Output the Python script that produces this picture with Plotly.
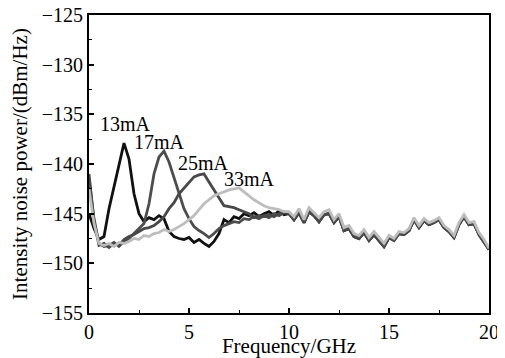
import plotly.graph_objects as go

freq = [0.0, 0.25, 0.5, 0.75, 1.0, 1.25, 1.5, 1.75, 2.0, 2.25, 2.5, 2.75, 3.0, 3.25, 3.5, 3.75,
        4.0, 4.25, 4.5, 4.75, 5.0, 5.25, 5.5, 5.75, 6.0, 6.25, 6.5, 6.75, 7.0, 7.25, 7.5, 7.75,
        8.0, 8.25, 8.5, 8.75, 9.0, 9.25, 9.5, 9.75, 10.0,
        10.25, 10.5, 10.75, 11.0, 11.25, 11.5, 11.75, 12.0, 12.25, 12.5, 12.75, 13.0, 13.25, 13.5,
        13.75, 14.0, 14.25, 14.5, 14.75, 15.0, 15.25, 15.5, 15.75, 16.0, 16.25, 16.5, 16.75, 17.0,
        17.25, 17.5, 17.75, 18.0, 18.25, 18.5, 18.75, 19.0, 19.25, 19.5, 19.75, 20.0]

# 0-10 GHz region per bias current
low_13mA = [-145.0, -146.5, -147.6, -147.3, -144.5, -142.3, -140.1, -137.9, -139.5, -143.0,
            -145.0, -145.8, -145.4, -145.6, -145.2, -145.5, -146.8, -147.3, -147.5, -147.6,
            -147.4, -147.9, -147.6, -148.0, -148.3, -147.8, -147.0, -145.6, -145.9, -145.3,
            -145.5, -145.0, -145.2, -144.9, -145.3, -145.0, -144.8, -145.2, -144.7, -145.1, -145.0]
low_17mA = [-141.5, -145.5, -148.0, -148.3, -148.2, -147.9, -148.3, -147.8, -147.5, -147.0,
            -146.5, -146.0, -144.0, -141.0, -139.3, -138.7, -139.8, -141.3, -143.0, -144.5,
            -145.5, -146.3, -146.7, -147.0, -147.4, -147.0, -146.5, -146.2, -146.0, -145.8,
            -145.9, -145.5, -145.6, -145.3, -145.5, -145.2, -145.4, -145.0, -145.2, -144.9, -145.0]
low_25mA = [-141.0, -145.8, -148.2, -148.0, -148.4, -148.0, -148.2, -147.6, -147.3, -147.1,
            -146.8, -146.5, -146.4, -146.2, -145.8, -145.3, -144.5, -143.9, -143.0, -142.4,
            -141.8, -141.3, -141.1, -141.0, -141.8, -142.6, -143.5, -144.2, -144.3, -144.4,
            -144.6, -144.8, -145.0, -145.4, -145.2, -145.3, -145.1, -145.3, -145.0, -144.8, -145.0]
low_33mA = [-142.5, -146.0, -148.0, -148.2, -148.0, -148.3, -147.9, -148.0, -147.8, -147.5,
            -147.6, -147.2, -147.3, -147.0, -146.9, -146.6, -146.8, -146.6, -146.3, -146.0,
            -145.6, -145.2, -144.6, -144.0, -143.6, -143.2, -143.0, -142.8, -142.6, -142.5,
            -142.4, -142.8, -143.2, -143.6, -143.9, -144.2, -144.4, -144.5, -144.6, -144.8, -144.8]

# 10.25-20 GHz region (curves merge)
tail_light = [-145.3, -144.5, -145.6, -144.4, -144.9, -145.4, -144.8, -144.6, -145.6, -145.0,
              -146.4, -146.2, -147.0, -147.2, -146.6, -147.4, -146.8, -147.4, -148.0, -147.2,
              -147.5, -146.8, -146.9, -146.5, -145.4, -146.2, -145.5, -145.9, -145.7, -145.4,
              -146.2, -146.6, -147.2, -145.9, -145.1, -145.9, -145.8, -146.9, -147.6, -148.5]
tail_dark = [-145.6, -144.9, -145.9, -144.8, -145.2, -145.8, -145.1, -145.0, -145.9, -145.3,
             -146.7, -146.5, -147.3, -147.5, -146.9, -147.7, -147.1, -147.7, -148.3, -147.4,
             -147.7, -147.0, -147.1, -146.7, -145.6, -146.4, -145.7, -146.1, -145.9, -145.6,
             -146.4, -146.8, -147.4, -146.1, -145.3, -146.1, -146.0, -147.1, -147.8, -148.6]

labels = ["13mA", "17mA", "25mA", "33mA"]
label_pos_x = [1.8, 3.5, 5.7, 8.0]
label_pos_y = [-136.0, -137.8, -139.9, -141.5]

series = [
    ("13mA", low_13mA + tail_dark, "#111111"),
    ("17mA", low_17mA + tail_dark, "#4d4d4d"),
    ("25mA", low_25mA + tail_dark, "#484848"),
    ("33mA", low_33mA + tail_light, "#bdbdbd"),
]

FONT = "Liberation Serif"

fig = go.Figure()
for name, vals, col in series:
    fig.add_trace(go.Scatter(x=freq, y=vals, mode="lines", name=name,
                             line=dict(color=col, width=2.8), showlegend=False))

for t, x, y in zip(labels, label_pos_x, label_pos_y):
    fig.add_annotation(x=x, y=y, text=t, showarrow=False,
                       font=dict(family=FONT, size=20, color="black"))

# page body has an 8px default margin, so the figure is sized/offset to compensate
fig.update_layout(
    width=497, height=350,
    margin=dict(l=81, r=16, t=7, b=45, autoexpand=False),
    paper_bgcolor="white", plot_bgcolor="white",
    font=dict(family=FONT, size=20, color="black"),
)
fig.update_xaxes(range=[0, 20], tickvals=[0, 5, 10, 15, 20], ticks="inside", ticklen=5,
                 tickwidth=1.5, tickcolor="black", automargin=False, ticklabeloverflow="allow",
                 minor=dict(ticks="inside", ticklen=3, tickwidth=1.2, tickcolor="black", dtick=2.5),
                 showline=True, linecolor="black", linewidth=2, mirror=True, showgrid=False,
                 zeroline=False,
                 title=dict(text="Frequency/GHz", font=dict(family=FONT, size=21), standoff=0))
fig.update_yaxes(range=[-155, -125], tickvals=[-155, -150, -145, -140, -135, -130, -125],
                 ticks="inside", ticklen=5, tickwidth=1.5, tickcolor="black", automargin=False,
                 ticklabeloverflow="allow",
                 minor=dict(ticks="inside", ticklen=3, tickwidth=1.2, tickcolor="black", dtick=2.5),
                 showline=True, linecolor="black", linewidth=2, mirror=True, showgrid=False,
                 zeroline=False,
                 title=dict(text="Intensity noise power/(dBm/Hz)", font=dict(family=FONT, size=21),
                            standoff=8))

fig.write_html("out.html")
